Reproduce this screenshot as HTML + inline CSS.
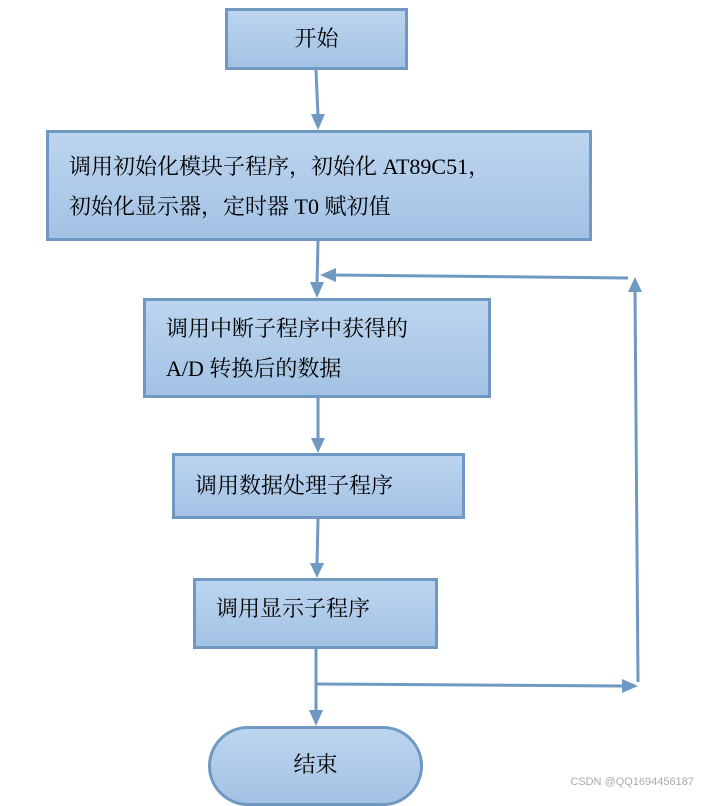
<!DOCTYPE html>
<html><head><meta charset="utf-8"><style>
body{margin:0;width:716px;height:794px;background:#fff;position:relative;overflow:hidden;font-family:"Liberation Serif","Noto Serif CJK SC",serif;}
.b{position:absolute;box-sizing:border-box;border:3px solid #6f98c2;background:linear-gradient(#bcd5ef,#a3c2e4);font-size:22px;color:#000;line-height:40px;}
svg{position:absolute;left:0;top:0}
.wm{position:absolute;right:22px;bottom:6px;font-family:"Liberation Sans",sans-serif;font-size:11px;color:#aaa}
</style></head><body>
<div class="b" style="left:225px;top:8px;width:183px;height:62px;text-align:center;line-height:56px">开始</div>
<div class="b" style="left:46px;top:130px;width:546px;height:111px;padding:14px 0 0 20px;">调用初始化模块子程序，初始化 AT89C51，<br>初始化显示器，定时器 T0 赋初值</div>
<div class="b" style="left:143px;top:298px;width:348px;height:100px;padding:8px 0 0 20px;">调用中断子程序中获得的<br>A/D 转换后的数据</div>
<div class="b" style="left:172px;top:453px;width:293px;height:66px;padding:10px 0 0 20px;">调用数据处理子程序</div>
<div class="b" style="left:193px;top:578px;width:245px;height:71px;padding:8px 0 0 20px;">调用显示子程序</div>
<div class="b" style="left:208px;top:726px;width:215px;height:80px;border-radius:40px;text-align:center;line-height:72px">结束</div>
<svg width="716" height="794"><g stroke="#6f98c2" stroke-width="3" fill="none">
<line x1="316" y1="70" x2="318" y2="116"/><line x1="318" y1="241" x2="317" y2="284"/>
<line x1="318" y1="398" x2="318" y2="440"/><line x1="318" y1="519" x2="317" y2="565"/>
<line x1="316" y1="649" x2="316" y2="712"/><line x1="316" y1="684" x2="624" y2="686"/>
<line x1="638" y1="682" x2="635" y2="290"/><line x1="628" y1="278" x2="334" y2="275"/>
</g><g fill="#6f98c2">
<polygon points="311,114 325,114 318,130"/><polygon points="310,282 324,282 317,298"/>
<polygon points="311,438 325,438 318,453"/><polygon points="310,563 324,563 317,578"/>
<polygon points="309,710 323,710 316,726"/><polygon points="622,679 622,693 638,686"/>
<polygon points="628,292 642,292 635,277"/><polygon points="336,268 336,282 320,275"/>
</g></svg>
<div class="wm">CSDN @QQ1694456187</div>
</body></html>
